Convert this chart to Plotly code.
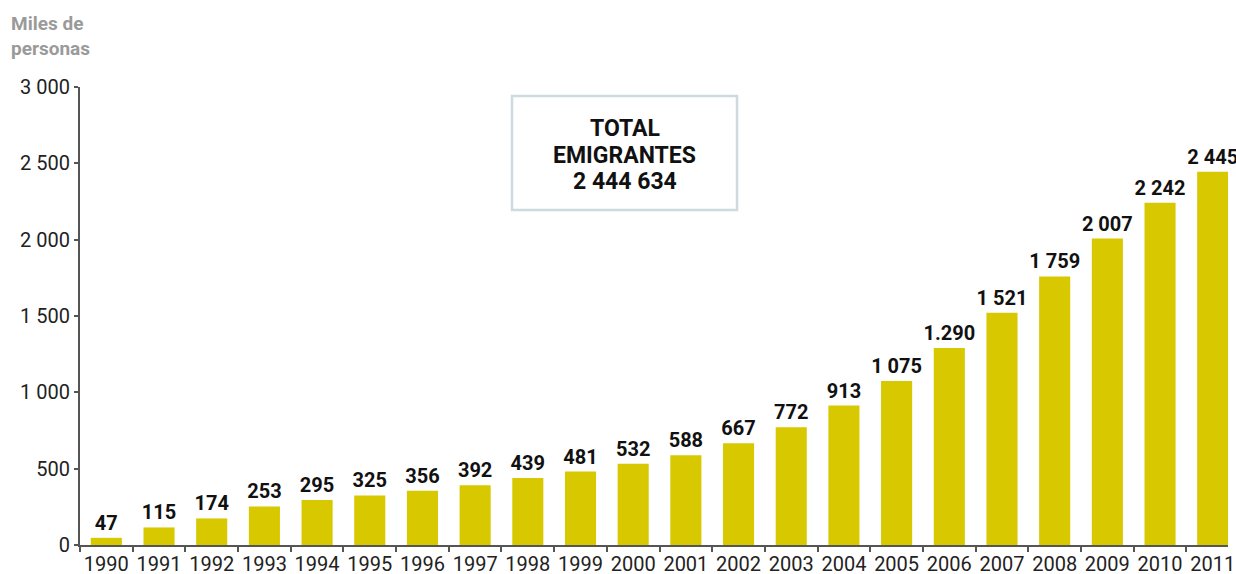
import plotly.graph_objects as go

years = [str(y) for y in range(1990, 2012)]
values = [47, 115, 174, 253, 295, 325, 356, 392, 439, 481, 532, 588, 667, 772,
          913, 1075, 1290, 1521, 1759, 2007, 2242, 2445]
value_labels = ["47", "115", "174", "253", "295", "325", "356", "392", "439", "481",
                "532", "588", "667", "772", "913", "1 075", "1.290", "1 521",
                "1 759", "2 007", "2 242", "2 445"]
y_tickvals = [0, 500, 1000, 1500, 2000, 2500, 3000]
y_ticktext = ["0", "500", "1 000", "1 500", "2 000", "2 500", "3 000"]
unit_label = "Miles de<br>personas"
box_lines = ["TOTAL", "EMIGRANTES", "2 444 634"]

W, H = 1236, 574
PL, PR, PT, PB = 80, 1228, 87, 545  # plot area in page pixels
L, R, T, B = PL, W - PR, PT, H - PB
pw, ph = PR - PL, PB - PT

def px(x):
    return (x - PL) / pw

def py(y):
    return (PB - y) / ph

fig = go.Figure(go.Bar(
    x=years, y=values, text=value_labels, textposition="outside",
    textfont=dict(family="Roboto", size=20, color="#111111", weight="bold"),
    constraintext="none", cliponaxis=False,
    marker=dict(color="#D8C800", line=dict(width=0)),
    hoverinfo="x+y",
))

annotations = []
for line, yc in zip(box_lines, [128, 155, 181]):
    annotations.append(dict(
        text=line, xref="paper", yref="paper", x=px(624.5), y=py(yc),
        xanchor="center", yanchor="middle", showarrow=False,
        font=dict(family="Roboto", size=23, color="#111111", weight="bold")))
annotations.append(dict(
    text=unit_label, xref="paper", yref="paper", x=px(9), y=py(10),
    xanchor="left", yanchor="top", showarrow=False, align="left",
    font=dict(family="Roboto", size=19, color="#9A9A9A", weight="bold")))

fig.update_layout(
    width=W, height=H,
    margin=dict(l=L, r=R, t=T, b=B, autoexpand=False),
    plot_bgcolor="white", paper_bgcolor="white",
    bargap=0.41, showlegend=False,
    font=dict(family="Roboto", color="#222222"),
    xaxis=dict(type="category", range=[-0.5, 21.29], showline=True,
               linecolor="#555555", linewidth=2, ticks="outside",
               tickson="boundaries", ticklen=5, tickcolor="#555555",
               tickwidth=1.5, tickangle=0,
               tickfont=dict(size=20, color="#222222"),
               showgrid=False, automargin=False, fixedrange=True),
    yaxis=dict(range=[0, 3000], tickvals=y_tickvals, ticktext=y_ticktext,
               showline=True, linecolor="#555555", linewidth=2,
               ticks="outside", ticklen=4, tickcolor="#555555", tickwidth=1.5,
               tickfont=dict(size=20, color="#222222"), showgrid=False,
               zeroline=False, automargin=False, fixedrange=True),
    shapes=[dict(type="rect", xref="paper", yref="paper",
                 x0=px(512), x1=px(737), y0=py(210), y1=py(96),
                 line=dict(color="#CFD9E0", width=2.5), fillcolor="white",
                 layer="below")],
    annotations=annotations,
)

fig.write_html(
    "out.html",
    config={"displayModeBar": False},
    post_script="document.body.style.margin='0';document.body.style.overflow='hidden';",
)
